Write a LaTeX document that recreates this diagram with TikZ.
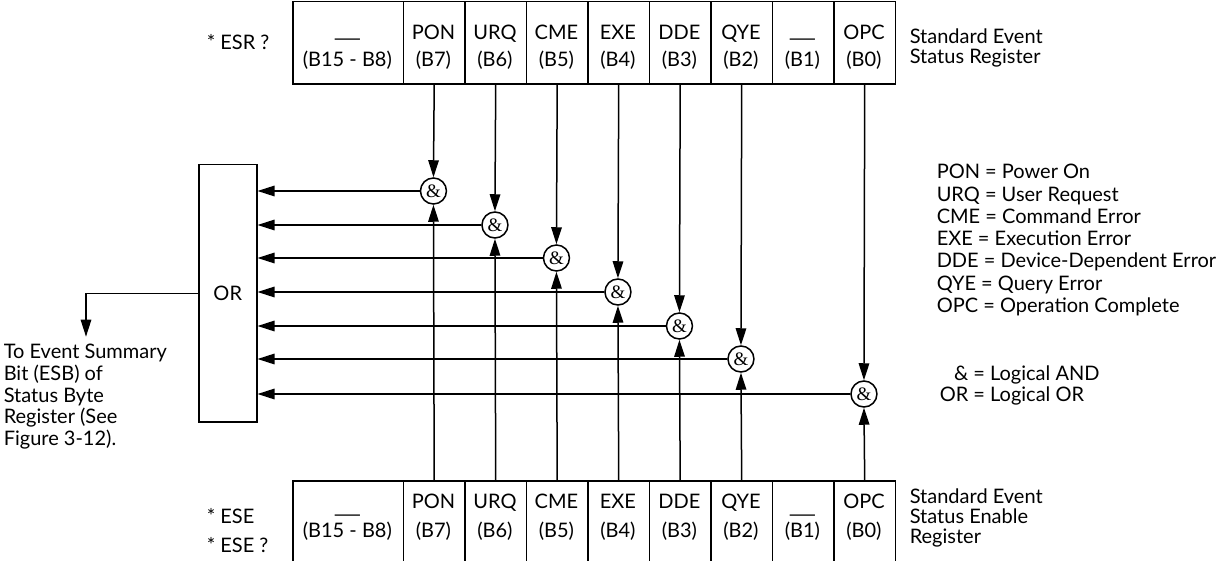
\documentclass[tikz,border=0pt]{standalone}
\usepackage{fontspec}
\usepackage{graphicx}
\setmainfont{Lato}
\newfontfamily\ampfont{Liberation Serif}
\usetikzlibrary{arrows.meta}
\newcommand\longdash{\scalebox{1.9}[1]{—}}
\begin{document}
\begin{tikzpicture}[x=1pt,y=-1pt,line width=1.5pt,
  tx/.style={inner sep=0pt,anchor=base,font=\fontsize{20}{22}\selectfont},
  txt/.style={inner sep=0pt,anchor=north west,align=left},
  cell/.style={draw,line width=1.5pt,minimum height=82.3pt,inner sep=0pt,anchor=north west},
  gate/.style={draw,circle,minimum size=26pt,inner sep=0pt,font=\ampfont\fontsize{19}{19}\selectfont},
  arr/.style={-{Triangle[length=17pt,width=10.5pt]}}]
\useasboundingbox (0,0) rectangle (1225,561);
% registers
\node[cell,minimum width=110.7pt] (t8) at (292,1) {};
\node[cell,minimum width=110.7pt] (b8) at (292,480) {};
\node[tx] (t8a) at (347.35,46) {\longdash};
\node[tx] (t8b) at (347.35,66.7) {(B15 - B8)};
\node[tx] (b8a) at (347.35,521.2) {\longdash};
\node[tx] (b8b) at (347.35,537) {(B15 - B8)};
\foreach \i/\lab/\k in {7/PON/0,6/URQ/1,5/CME/2,4/EXE/3,3/DDE/4,2/QYE/5,0/OPC/7} {
  \node[cell,minimum width=61.5pt] (t\i) at ({402.7+61.5*\k},1) {};
  \node[cell,minimum width=61.5pt] (b\i) at ({402.7+61.5*\k},480) {};
  \node[tx] (t\i a) at ({433.45+61.5*\k},40) {\lab};
  \node[tx] (t\i b) at ({433.45+61.5*\k},66.7) {(B\i)};
  \node[tx] (b\i a) at ({433.45+61.5*\k},508.3) {\lab};
  \node[tx] (b\i b) at ({433.45+61.5*\k},537) {(B\i)};
}
\node[cell,minimum width=61.5pt] (t1) at (771.7,1) {};
\node[cell,minimum width=61.5pt] (b1) at (771.7,480) {};
\node[tx] (t1a) at (802.45,46) {\longdash};
\node[tx] (t1b) at (802.45,66.7) {(B1)};
\node[tx] (b1a) at (802.45,521.2) {\longdash};
\node[tx] (b1b) at (802.45,537) {(B1)};
% OR box
\node[draw,minimum width=58pt,minimum height=257pt,inner sep=0pt,anchor=north west,
  font=\fontsize{20}{22}\selectfont] (orbox) at (198,164) {OR};
% gates and connectors
\foreach \i/\k/\y in {7/0/191,6/1/225,5/2/258,4/3/292,3/4/326,2/5/359,0/7/394} {
  \node[gate] (g\i) at ({433.45+61.5*\k},\y) {\&};
  \draw[arr] (t\i.south) -- (g\i.north);
  \draw[arr] (b\i.north) -- (g\i.south);
  \draw[arr] (g\i.west) -- (g\i.west -| orbox.east);
}
\coordinate (esb) at (86,336.7);
\draw[arr] (orbox.west) -| (esb);
% labels
\node[tx,anchor=base west] (esr) at (206,50) {* ESR ?};
\node[tx,anchor=base west] (ese) at (206,523.3) {* ESE};
\node[tx,anchor=base west] (eseq) at (206,552.7) {* ESE ?};
\node[txt,font=\fontsize{20}{20}\selectfont] (sesr) at (909,28.5) {Standard Event\\Status Register};
\node[txt,font=\fontsize{20}{20}\selectfont] (sese) at (909,488.5) {Standard Event\\Status Enable\\Register};
\node[txt,font=\fontsize{20}{21.7}\selectfont] (note) at (3,343.5) {To Event Summary\\Bit (ESB) of\\Status Byte\\Register (See\\Figure 3-12).};
\node[txt,font=\fontsize{20}{22.3}\selectfont] (legend) at (936,163.5) {PON = Power On\\URQ = User Request\\CME = Command Error\\EXE = Execution Error\\DDE = Device-Dependent Error\\QYE = Query Error\\OPC = Operation Complete};
\node[inner sep=0pt,anchor=north west,font=\fontsize{20}{21.7}\selectfont] (logic) at (939,364.1)
  {\renewcommand\arraystretch{1}\begin{tabular}{@{}r@{ = }l@{}}\&&Logical AND\\OR&Logical OR\end{tabular}};
\end{tikzpicture}
\end{document}
